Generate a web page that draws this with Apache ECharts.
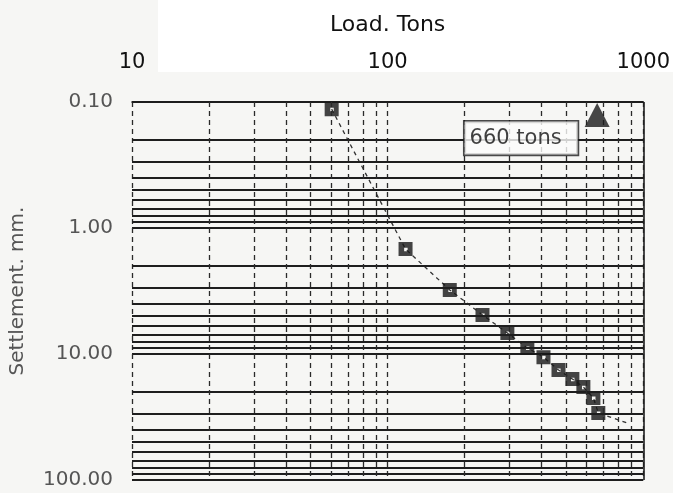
<!DOCTYPE html>
<html>
<head>
<meta charset="utf-8">
<script src="https://cdn.jsdelivr.net/npm/echarts@6/dist/echarts.min.js"></script>
<style>html,body{margin:0;padding:0;background:#f6f6f4;}#c{width:673px;height:493px;}</style>
</head>
<body>
<div id="c"></div>
<script>
// Measured load test points
const loadTons = [60.4, 117.5, 175, 235, 294, 352, 407, 466, 528, 583, 638, 667];
const settlementMm = [0.114, 1.47, 3.1, 4.9, 6.81, 8.96, 10.6, 13.4, 15.8, 18.3, 22.3, 29.4];
// End of the dashed trend line beyond the last point
const trendEndLoad = [866];
const trendEndSettlement = [35.3];
// Failure load marker
const failureLoad = [660];
const failureSettlement = [0.127];
const failureLabel = ['660 tons'];
// Minor grid values (log paper)
const yMinorGrid = [0.2,0.3,0.4,0.5,0.6,0.7,0.8,0.9, 2,3,4,5,6,7,8,9, 20,30,40,50,60,70,80,90];
const xMinorGrid = [20,30,40,50,60,70,80,90, 200,300,400,500,600,700,800,900];
const xTitle = 'Load. Tons';
const yTitle = 'Settlement. mm.';

const FONT = 'DejaVu Sans';
const pts = loadTons.map((x, i) => [x, settlementMm[i]]);
const trend = pts.concat(trendEndLoad.map((x, i) => [x, trendEndSettlement[i]]));

const chart = echarts.init(document.getElementById('c'), null, {renderer: 'canvas'});
chart.setOption({
  backgroundColor: '#f6f6f4',
  animation: false,
  graphic: [{
    type: 'rect', z: -100, silent: true,
    shape: {x: 158, y: 0, width: 515, height: 72},
    style: {fill: '#ffffff'}
  }],
  grid: {left: 132, right: 29, top: 102, bottom: 13},
  xAxis: {
    type: 'log', logBase: 10, min: 10, max: 1000, position: 'top',
    name: xTitle, nameLocation: 'middle', nameGap: 66,
    nameTextStyle: {fontFamily: FONT, fontSize: 22, color: '#111'},
    axisLine: {show: true, lineStyle: {color: '#1e1e1e', width: 1.6}},
    axisTick: {show: false},
    axisLabel: {fontFamily: FONT, fontSize: 21, color: '#111', margin: 29,
      formatter: v => String(Math.round(v))},
    splitLine: {show: true, lineStyle: {color: '#2a2a2a', width: 1.3, type: [5, 4]}}
  },
  yAxis: {
    type: 'log', logBase: 10, min: 0.1, max: 100, inverse: true,
    name: yTitle, nameLocation: 'middle', nameGap: 104,
    nameTextStyle: {fontFamily: FONT, fontSize: 20, color: '#555'},
    axisLine: {show: false},
    axisTick: {show: false},
    axisLabel: {fontFamily: FONT, fontSize: 20, color: '#555', margin: 19,
      formatter: v => Number(v).toFixed(2)},
    splitLine: {show: true, lineStyle: {color: '#1e1e1e', width: 1.8}}
  },
  series: [
    {
      type: 'line', name: 'grid', silent: true, data: [], z: 1,
      markLine: {
        silent: true, symbol: 'none', label: {show: false}, animation: false,
        data: yMinorGrid.map(v => ({yAxis: v, lineStyle: {color: '#1e1e1e', width: 1.8, type: 'solid'}}))
          .concat(xMinorGrid.map(v => ({xAxis: v, lineStyle: {color: '#2a2a2a', width: 1.3, type: [5, 4]}})))
          .concat([{xAxis: 1000, lineStyle: {color: '#1e1e1e', width: 1.6, type: 'solid'}}])
      }
    },
    {
      type: 'line', name: 'trend', data: trend, showSymbol: false, z: 3,
      lineStyle: {color: '#333', width: 1.3, type: [4, 4]}
    },
    {
      type: 'scatter', name: 'points', data: pts, z: 4,
      symbol: 'path://M0,0 H10 V10 H0 Z M4,4 V6.5 H6.5 V4 Z',
      symbolSize: 14,
      itemStyle: {color: '#161616'}
    },
    {
      type: 'scatter', name: 'failure', z: 10,
      data: failureLoad.map((x, i) => ({value: [x, failureSettlement[i]], label: {formatter: failureLabel[i]}})),
      symbol: 'triangle', symbolSize: [25, 24],
      itemStyle: {color: '#1a1a1a'},
      label: {
        show: true, position: 'left', distance: 7, offset: [0, 23],
        fontFamily: FONT, fontSize: 21, color: '#111',
        backgroundColor: '#fcfcfb', borderColor: '#1e1e1e', borderWidth: 1.6,
        padding: [6, 16, 6, 5]
      }
    }
  ]
});
</script>
</body>
</html>
